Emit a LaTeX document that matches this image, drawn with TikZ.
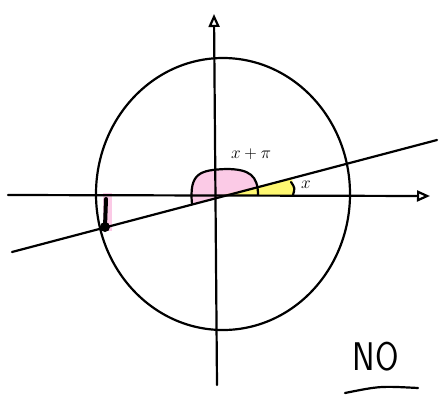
\documentclass[tikz,border=0pt]{standalone}
\usepackage{tikz}
\usetikzlibrary{arrows.meta, calc}

\begin{document}
\begin{tikzpicture}[
    x=1pt, y=-1pt,
    pen/.style={line width=2.2pt, line cap=round, line join=round},
    axis/.style={pen, -{Triangle[open, length=13pt, width=11pt, line width=2.2pt]}},
    lbl/.style={font=\LARGE},
    pinkfill/.style={fill=magenta!30, opacity=0.7},
    yellowfill/.style={fill=yellow!70, opacity=0.8},
  ]
  \useasboundingbox (0,0) rectangle (442,397);
  \coordinate (O) at (217,196);
  \coordinate (L1) at (12,252);
  \coordinate (L2) at (437,140);
  \coordinate (P) at (105,227);
  % shaded angles
  \fill[yellowfill] (O) -- (293,196) .. controls (294,189) .. (292,178) -- cycle;
  \fill[pinkfill] (192,204) .. controls (189,173) and (200,170) .. (226,169)
    .. controls (250,169) and (258,176) .. (258,195) -- (258,187) -- cycle;
  \fill[pinkfill] (103,193) rectangle (112,231);
  % axes
  \draw[axis] (8,195) -- (430,196);
  \draw[axis] (217,385) -- (214,14);
  % unit circle
  \draw[pen] (223,194) ellipse [x radius=127, y radius=136];
  % line through the origin
  \draw[pen] (L1) -- (L2);
  % angle arcs
  \draw[pen] (192,204) .. controls (189,173) and (200,170) .. (226,169)
    .. controls (250,169) and (258,176) .. (258,195);
  \draw[pen] (291,182) .. controls (295,188) .. (293,195);
  \node[lbl] (xpi) at (251,154) {$x+\pi$};
  \node[lbl] (xang) at (306,185) {$x$};
  % point on the circle
  \draw[line width=4pt, line cap=round] (106,199) -- (P);
  \fill (P) circle (5);
  % verdict
  \node[font=\fontsize{40}{40}\selectfont\sffamily, xscale=0.85] (no) at (376,357) {NO};
  \draw[pen] (345,393) .. controls (380,386) .. (418,388);
\end{tikzpicture}
\end{document}
